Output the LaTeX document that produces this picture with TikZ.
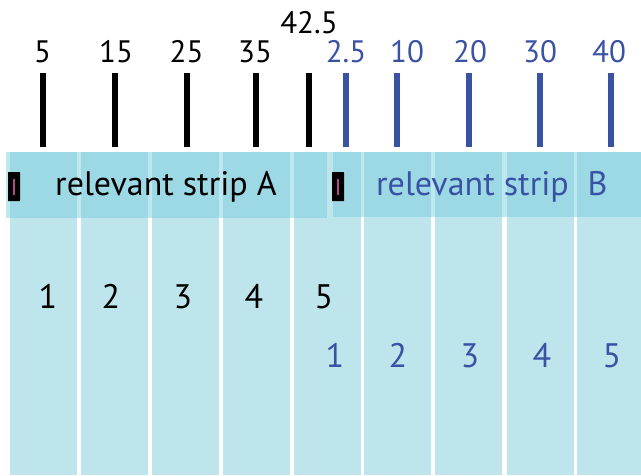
\documentclass[tikz,border=0pt]{standalone}
\usepackage{fontspec}
\setmainfont{PT Sans}
\definecolor{colfill}{HTML}{BEE4EC}
\definecolor{bandfill}{HTML}{7ECFE0}
\definecolor{bblue}{HTML}{3A52A4}
\definecolor{pinkm}{HTML}{B04A8C}
\tikzset{
  column/.style={fill=colfill, draw=none},
  band/.style={fill=bandfill, fill opacity=0.5, draw=none},
  tickA/.style={line width=6pt, draw=black},
  tickB/.style={line width=6pt, draw=bblue},
  toplab/.style={font=\fontsize{31}{31}\selectfont, anchor=base, inner sep=0pt},
  striplab/.style={font=\fontsize{34}{34}\selectfont, anchor=base, inner sep=0pt},
  numlab/.style={font=\fontsize{34}{34}\selectfont, anchor=base, inner sep=0pt},
  marker/.style={fill=black, rounded corners=0.5pt, minimum width=12pt, minimum height=29pt, inner sep=0pt, draw=none},
}
\begin{document}
\begin{tikzpicture}[x=1pt,y=-1pt]
\useasboundingbox (0,0) rectangle (641,475);
% columns
\foreach \i/\a/\b in {1/10/76.5,2/80.5/147.6,3/152/218.7,4/222.8/290,5/294/360.6,6/364/431,7/435/502,8/507/573.6,9/577/641}{
  \fill[column] (\a,152) rectangle (\b,475);
}
% bands
\fill[band] (6,152) rectangle (327,218);
\fill[band] (333,152) rectangle (641,217);
% ticks
\foreach \n/\x in {a1/43,a2/114.5,a3/186.5,a4/255.5,a5/309}{
  \coordinate (t\n top) at (\x,73);
  \coordinate (t\n bot) at (\x,147);
  \draw[tickA] (t\n top) -- (t\n bot);
}
\foreach \n/\x in {b1/346,b2/396.5,b3/469,b4/540,b5/610.5}{
  \coordinate (t\n top) at (\x,73);
  \coordinate (t\n bot) at (\x,147);
  \draw[tickB] (t\n top) -- (t\n bot);
}
% top labels
\node[toplab] (la1) at (42.5,62) {5};
\node[toplab] (la2) at (116,62) {15};
\node[toplab] (la3) at (186.5,62) {25};
\node[toplab] (la4) at (255,62) {35};
\node[toplab] (la5) at (309,33) {42.5};
\node[toplab, text=bblue] (lb1) at (346,62) {2.5};
\node[toplab, text=bblue] (lb2) at (407,62) {10};
\node[toplab, text=bblue] (lb3) at (470,62) {20};
\node[toplab, text=bblue] (lb4) at (540,62) {30};
\node[toplab, text=bblue] (lb5) at (609,62) {40};
% markers
\node[marker] (mA) at (14,186.5) {};
\draw[pinkm, line width=2pt] ([yshift=-8pt]mA.center) -- ([yshift=8pt]mA.center);
\node[marker] (mB) at (338,186.5) {};
\draw[pinkm, line width=2pt] ([yshift=-8pt]mB.center) -- ([yshift=8pt]mB.center);
% strip labels
\node[striplab] (sA) at (166,195) {relevant strip A};
\node[striplab, text=bblue] (sB) at (472.5,195) {relevant strip};
\node[striplab, text=bblue] (sBB) at (597.5,195) {B};
% column numbers
\foreach \n/\x in {1/48,2/111,3/183,4/254,5/324}{
  \node[numlab] (na\n) at (\x,308) {\n};
}
\foreach \n/\x in {1/335,2/398,3/470,4/542,5/612}{
  \node[numlab, text=bblue] (nb\n) at (\x,367) {\n};
}
\end{tikzpicture}
\end{document}
